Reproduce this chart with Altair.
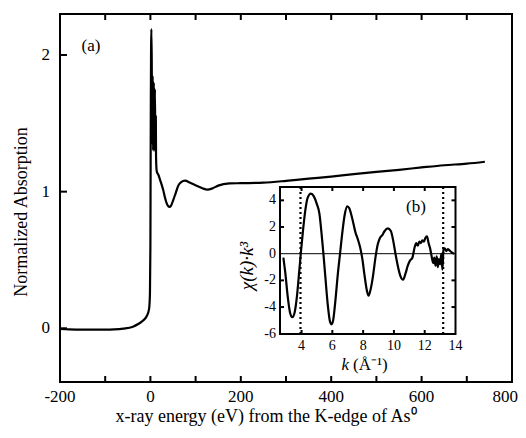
import altair as alt
import pandas as pd

# ---------------- data: main XANES spectrum (panel a) ----------------
energy = [-200, -180, -150, -120, -100, -80, -60, -40, -25, -15,
          -8, -3, -1, 0, 0.5, 1.0, 1.5, 2.2, 3, 3.8,
          5, 6, 7.5, 8.5, 10, 11, 12, 12.5, 14, 18,
          21, 25, 28.5, 32, 34.5, 38, 42, 46, 50.7, 56,
          61.7, 68, 76.5, 88, 102, 115, 126, 138, 150, 175,
          200, 250, 300, 350, 400, 450, 500, 550, 600, 650,
          700, 740]
absorption = [-0.005, -0.008, -0.01, -0.01, -0.01, -0.008, -0.002, 0.01, 0.035, 0.06,
              0.09, 0.14, 0.25, 0.6, 1.2, 1.7, 2.05, 2.19, 1.95, 1.35,
              1.85, 1.3, 1.8, 1.3, 1.75, 1.3, 1.55, 1.25, 1.15, 1.12,
              1.09, 1.05, 1.01, 0.96, 0.93, 0.9, 0.888, 0.9, 0.94, 0.99,
              1.044, 1.07, 1.08, 1.065, 1.044, 1.025, 1.015, 1.025, 1.044, 1.06,
              1.062, 1.066, 1.079, 1.095, 1.11, 1.128, 1.145, 1.16, 1.177, 1.193,
              1.205, 1.219]

main_x_domain = [-200, 800]
main_y_domain = [-0.393, 2.30]
main_x_labels = [-200, 0, 200, 400, 600, 800]
main_x_ticks = [-100, 0, 100, 200, 300, 400, 500, 600, 700]
main_y_labels = [0, 1, 2]

# ---------------- data: EXAFS chi(k)*k^3 (panel b) ----------------
k_vals = [2.82, 2.95, 3.1, 3.25, 3.4, 3.55, 3.7, 3.85, 3.95, 4.1,
          4.25, 4.4, 4.6, 4.8, 5.0, 5.16, 5.3, 5.42, 5.55, 5.7,
          5.85, 5.95, 6.05, 6.2, 6.35, 6.5, 6.65, 6.8, 6.97, 7.1,
          7.3, 7.5, 7.65, 7.8, 7.95, 8.1, 8.25, 8.35, 8.5, 8.65,
          8.8, 8.95, 9.1, 9.25, 9.4, 9.6, 9.8, 9.95, 10.1, 10.25,
          10.4, 10.6, 10.75, 10.9, 11.05, 11.2, 11.35, 11.45, 11.55, 11.65,
          11.75, 11.85, 11.95, 12.05, 12.15, 12.25, 12.35, 12.45, 12.55, 12.62,
          12.7, 12.78, 12.85, 12.92, 13.0, 13.08, 13.15, 13.22, 13.3, 13.4,
          13.5, 13.6, 13.75, 13.9]
chi_k3 = [-0.3, -1.5, -3.2, -4.4, -4.75, -4.4, -3.2, -1.3, 0.0, 1.8,
          3.3, 4.2, 4.5, 4.3, 3.7, 3.0, 1.5, 0.0, -1.8, -3.8,
          -5.1, -5.3, -5.0, -3.5, -1.6, 0.0, 1.6, 2.9, 3.55, 3.4,
          2.6, 1.6, 1.1, 0.5, -0.4, -1.7, -2.8, -3.15, -2.6, -1.6,
          -0.3, 0.7, 1.2, 1.4, 1.7, 1.9, 1.7, 1.0, 0.0, -0.9,
          -1.6, -1.95, -1.5, -0.9, -0.5, -0.3, 0.5, 0.8, 0.6, 0.9,
          0.8, 1.0, 0.9, 1.2, 1.3, 0.8, 0.4, -0.2, -0.7, -0.3,
          -0.9, -0.2, -1.0, -0.4, -0.8, 0.0, -1.2, 0.3, 0.4, 0.2,
          0.35, 0.25, 0.1, 0.0]

inset_k_domain = [2.6, 14.0]
inset_v_domain = [-6.02, 5.0]
inset_k_labels = [4, 6, 8, 10, 12, 14]
inset_k_ticks = [4, 6, 8, 10, 12]
inset_v_labels = [-6, -4, -2, 0, 2, 4]
inset_v_ticks = [-4, -2, 2, 4]
window_edges = [3.93, 13.2]

assert len(energy) == len(absorption)
assert len(k_vals) == len(chi_k3)

FONT = "Liberation Serif"
W, H = 452, 368
INSET_X = [220, 395.5]
INSET_Y = [320, 173]

sx = alt.Scale(domain=main_x_domain, nice=False, zero=False)
sy = alt.Scale(domain=main_y_domain, nice=False, zero=False)

main_df = pd.DataFrame({"energy": energy, "absorption": absorption})
xt_df = pd.DataFrame({"energy": main_x_ticks})
yt_df = pd.DataFrame({"absorption": main_y_labels})
xl_df = pd.DataFrame({"energy": main_x_labels, "lab": [str(v) for v in main_x_labels]})
yl_df = pd.DataFrame({"absorption": main_y_labels, "lab": [str(v) for v in main_y_labels]})

main_line = alt.Chart(main_df).mark_line(color="black", strokeWidth=2.2, interpolate="monotone").encode(
    x=alt.X("energy:Q", scale=sx, axis=None),
    y=alt.Y("absorption:Q", scale=sy, axis=None),
)
bt = alt.Chart(xt_df).mark_rule(color="black", strokeWidth=2).encode(
    x=alt.X("energy:Q", scale=sx, axis=None), y=alt.value(H), y2=alt.value(H - 6))
tt = alt.Chart(xt_df).mark_rule(color="black", strokeWidth=2).encode(
    x=alt.X("energy:Q", scale=sx, axis=None), y=alt.value(0), y2=alt.value(6))
lt = alt.Chart(yt_df).mark_rule(color="black", strokeWidth=2).encode(
    y=alt.Y("absorption:Q", scale=sy, axis=None), x=alt.value(0), x2=alt.value(7))
xlab_inner = alt.Chart(xl_df).transform_filter("datum.energy < 800").mark_text(
    font=FONT, fontSize=17, color="black", baseline="top", align="center").encode(
    x=alt.X("energy:Q", scale=sx, axis=None), y=alt.value(H + 7), text="lab:N")
xlab_last = alt.Chart(xl_df).transform_filter("datum.energy >= 800").mark_text(
    font=FONT, fontSize=17, color="black", baseline="top", align="right", dx=6).encode(
    x=alt.X("energy:Q", scale=sx, axis=None), y=alt.value(H + 7), text="lab:N")
ylab = alt.Chart(yl_df).mark_text(font=FONT, fontSize=17, color="black", baseline="middle", align="right").encode(
    y=alt.Y("absorption:Q", scale=sy, axis=None), x=alt.value(-10), text="lab:N")
main_layer = alt.layer(main_line, bt, tt, lt, xlab_inner, xlab_last, ylab)

# ---------------- inset ----------------
ix = alt.Scale(domain=inset_k_domain, range=INSET_X, nice=False, zero=False)
iy = alt.Scale(domain=inset_v_domain, range=INSET_Y, nice=False, zero=False)

frame_df = pd.DataFrame({"k0": [inset_k_domain[0]], "k1": [inset_k_domain[1]],
                         "v0": [inset_v_domain[0]], "v1": [inset_v_domain[1]], "zero": [0]})
dot_df = pd.DataFrame({"k": window_edges, "v0": [inset_v_domain[0]] * 2, "v1": [inset_v_domain[1]] * 2})
chi_df = pd.DataFrame({"k": k_vals, "chi": chi_k3})
ikt_df = pd.DataFrame({"k": inset_k_ticks})
ivt_df = pd.DataFrame({"chi": inset_v_ticks})
ikl_df = pd.DataFrame({"k": inset_k_labels, "lab": [str(v) for v in inset_k_labels]})
ivl_df = pd.DataFrame({"chi": inset_v_labels, "lab": [str(v) for v in inset_v_labels]})

frame = alt.Chart(frame_df).mark_rect(fill="white", stroke="black", strokeWidth=2).encode(
    x=alt.X("k0:Q", scale=ix, axis=None), x2="k1:Q",
    y=alt.Y("v0:Q", scale=iy, axis=None), y2="v1:Q")
zero_line = alt.Chart(frame_df).mark_rule(color="black", strokeWidth=1).encode(
    x=alt.X("k0:Q", scale=ix, axis=None), x2="k1:Q",
    y=alt.Y("zero:Q", scale=iy, axis=None))
dotted = alt.Chart(dot_df).mark_rule(color="black", strokeWidth=2.2, strokeDash=[2, 3]).encode(
    x=alt.X("k:Q", scale=ix, axis=None),
    y=alt.Y("v0:Q", scale=iy, axis=None), y2="v1:Q")
chi_line = alt.Chart(chi_df).mark_line(color="black", strokeWidth=2.2, interpolate="monotone").encode(
    x=alt.X("k:Q", scale=ix, axis=None),
    y=alt.Y("chi:Q", scale=iy, axis=None),
)
ibt = alt.Chart(ikt_df).mark_rule(color="black", strokeWidth=2).encode(
    x=alt.X("k:Q", scale=ix, axis=None), y=alt.value(INSET_Y[0]), y2=alt.value(INSET_Y[0] - 4))
itt = alt.Chart(ikt_df).mark_rule(color="black", strokeWidth=2).encode(
    x=alt.X("k:Q", scale=ix, axis=None), y=alt.value(INSET_Y[1]), y2=alt.value(INSET_Y[1] + 4))
ilt = alt.Chart(ivt_df).mark_rule(color="black", strokeWidth=2).encode(
    y=alt.Y("chi:Q", scale=iy, axis=None), x=alt.value(INSET_X[0]), x2=alt.value(INSET_X[0] + 4))
irt = alt.Chart(ivt_df).mark_rule(color="black", strokeWidth=2).encode(
    y=alt.Y("chi:Q", scale=iy, axis=None), x=alt.value(INSET_X[1]), x2=alt.value(INSET_X[1] - 4))
iklab = alt.Chart(ikl_df).mark_text(font=FONT, fontSize=14, color="black", baseline="top", align="center").encode(
    x=alt.X("k:Q", scale=ix, axis=None), y=alt.value(INSET_Y[0] + 5), text="lab:N")
ivlab = alt.Chart(ivl_df).mark_text(font=FONT, fontSize=14, color="black", baseline="middle", align="right").encode(
    y=alt.Y("chi:Q", scale=iy, axis=None), x=alt.value(INSET_X[0] - 4), text="lab:N")
inset_layer = alt.layer(frame, zero_line, dotted, chi_line, ibt, itt, ilt, irt, iklab, ivlab)

# ---------------- titles / annotations ----------------
def txt(s, x, y, size=17, style="normal", angle=0, align="center", baseline="middle"):
    return alt.Chart(pd.DataFrame({"t": [s]})).mark_text(
        font=FONT, fontSize=size, fontStyle=style, color="black", angle=angle,
        align=align, baseline=baseline).encode(text="t:N", x=alt.value(x), y=alt.value(y))

ann = alt.layer(
    txt("(a)", 31, 32, size=17),
    txt("(b)", 356, 193, size=17),
    txt("x-ray energy (eV) from the K-edge of As⁰", 206, 408, size=18, baseline="alphabetic"),
    txt("Normalized Absorption", -38, 198, size=18, angle=270),
    txt("χ(k)·k³", 187, 252, size=19, style="italic", angle=270),
    txt("k", 289, 356, size=17, style="italic", align="right", baseline="alphabetic"),
    txt("(Å⁻¹)", 293, 356, size=17, align="left", baseline="alphabetic"),
)

chart = alt.layer(main_layer, inset_layer, ann).resolve_scale(
    x="independent", y="independent"
).properties(
    width=W, height=H, autosize="none",
    padding={"left": 52, "top": 6, "right": 6, "bottom": 48},
    background="white",
).configure_view(stroke="black", strokeWidth=2)

chart.save("out.html", embed_options={"renderer": "svg", "actions": False})
